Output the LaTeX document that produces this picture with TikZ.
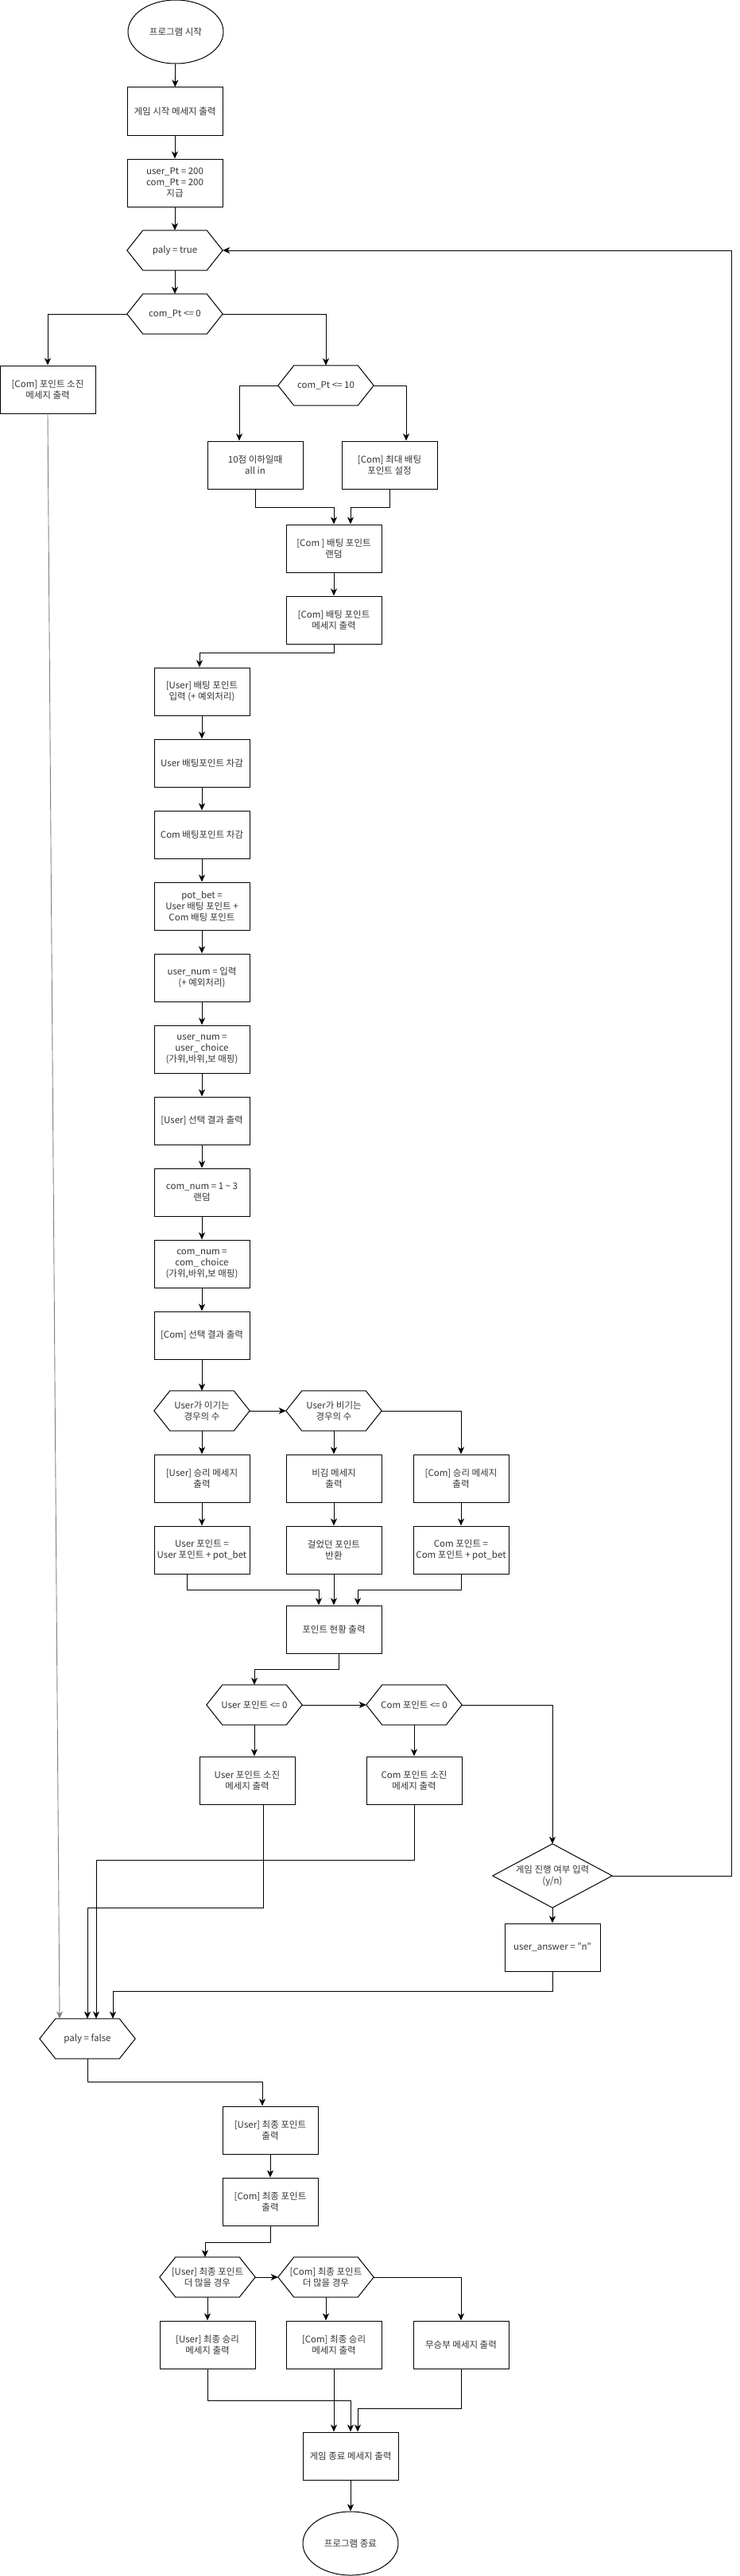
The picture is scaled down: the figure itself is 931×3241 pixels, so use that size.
\documentclass[tikz,border=0pt]{standalone}
\usepackage{fontspec}
\setmainfont{Noto Sans CJK KR}
\usetikzlibrary{shapes.geometric,arrows.meta,calc}
\definecolor{txt}{RGB}{51,51,51}
\definecolor{grayline}{RGB}{128,128,128}
\newcommand{\hexout}[1]{\draw[outl] (#1.west) -- ([xshift=20pt]#1.north west) -- ([xshift=-20pt]#1.north east) -- (#1.east) -- ([xshift=-20pt]#1.south east) -- ([xshift=20pt]#1.south west) -- cycle;}
\newcommand{\diaout}[1]{\draw[outl] (#1.west) -- (#1.north) -- (#1.east) -- (#1.south) -- cycle;}
\begin{document}
\begin{tikzpicture}[x=1pt,y=-1pt,
  every node/.style={font=\fontsize{11.5}{14}\selectfont, text=txt, align=center, inner sep=0pt},
  proc/.style={draw=black, line width=1pt, rectangle, minimum width=120pt, minimum height=60pt},
  hexn/.style={rectangle, minimum width=120pt, minimum height=50pt},
  term/.style={draw=black, line width=1pt, ellipse, minimum width=120pt, minimum height=80pt},
  dnode/.style={rectangle, minimum width=150pt, minimum height=80pt},
  outl/.style={draw=black, line width=1pt, line join=miter},
  conn/.style={draw=black, line width=0.9pt, -{Stealth[length=9pt,width=8pt,inset=2.5pt]}},
  gconn/.style={conn, draw=grayline},
]
\useasboundingbox (0,0) rectangle (931,3241);

% ---- nodes ----
\node[term] (start) at (221,40) {프로그램 시작};
\node[proc] (n1) at (220,140) {게임 시작 메세지 출력};
\node[proc] (n2) at (220,230) {user\_Pt = 200\\com\_Pt = 200\\지급};
\node[hexn] (h1) at (220,315) {paly = true};
\node[hexn] (h2) at (220,395) {com\_Pt <= 0};
\node[proc] (b3) at (60,490) {[Com] 포인트 소진\\메세지 출력};
\node[hexn] (h3) at (410,485) {com\_Pt <= 10};
\node[proc] (b4) at (321,585) {10점 이하일때\\all in};
\node[proc] (b5) at (490,585) {[Com] 최대 배팅\\포인트 설정};
\node[proc] (b6) at (420,690) {[Com ] 배팅 포인트\\랜덤};
\node[proc] (b7) at (420,780) {[Com] 배팅 포인트\\메세지 출력};
\node[proc] (b8) at (254,870) {[User] 배팅 포인트\\입력 (+ 예외처리)};
\node[proc] (b9) at (254,960) {User 배팅포인트 차감};
\node[proc] (b10) at (254,1050) {Com 배팅포인트 차감};
\node[proc] (b11) at (254,1140) {pot\_bet =\\User 배팅 포인트 +\\Com 배팅 포인트};
\node[proc] (b12) at (254,1230) {user\_num = 입력\\(+ 예외처리)};
\node[proc] (b13) at (254,1320) {user\_num =\\user\_ choice\\(가위,바위,보 매핑)};
\node[proc] (b14) at (254,1410) {[User] 선택 결과 출력};
\node[proc] (b15) at (254,1500) {com\_num = 1 \textasciitilde{} 3\\랜덤};
\node[proc] (b16) at (254,1590) {com\_num =\\com\_ choice\\(가위,바위,보 매핑)};
\node[proc] (b17) at (254,1680) {[Com] 선택 결과 출력};
\node[hexn] (h4) at (254,1775) {User가 이기는\\경우의 수};
\node[hexn] (h5) at (420,1775) {User가 비기는\\경우의 수};
\node[proc] (b18) at (254,1860) {[User] 승리 메세지\\출력};
\node[proc] (b19) at (420,1860) {비김 메세지\\출력};
\node[proc] (b20) at (580,1860) {[Com] 승리 메세지\\출력};
\node[proc] (b21) at (254,1950) {User 포인트 =\\User 포인트 + pot\_bet};
\node[proc] (b22) at (420,1950) {걸었던 포인트\\반환};
\node[proc] (b23) at (580,1950) {Com 포인트 =\\Com 포인트 + pot\_bet};
\node[proc] (b24) at (420,2050) {포인트 현황 출력};
\node[hexn] (h6) at (320,2145) {User 포인트 <= 0};
\node[hexn] (h7) at (521,2145) {Com 포인트 <= 0};
\node[proc] (b25) at (311,2240) {User 포인트 소진\\메세지 출력};
\node[proc] (b26) at (521,2240) {Com 포인트 소진\\메세지 출력};
\node[dnode] (d1) at (695,2360) {게임 진행 여부 입력\\(y/n)};
\node[proc] (b27) at (695,2450) {user\_answer = "n"};
\node[hexn] (h8) at (110,2565) {paly = false};
\node[proc] (b28) at (340,2680) {[User] 최종 포인트\\출력};
\node[proc] (b29) at (340,2770) {[Com] 최종 포인트\\출력};
\node[hexn] (h9) at (261,2865) {[User] 최종 포인트\\더 많을 경우};
\node[hexn] (h10) at (410,2865) {[Com] 최종 포인트\\더 많을 경우};
\node[proc] (b30) at (261,2950) {[User] 최종 승리\\메세지 출력};
\node[proc] (b31) at (420,2950) {[Com] 최종 승리\\메세지 출력};
\node[proc] (b32) at (580,2950) {무승부 메세지 출력};
\node[proc] (b33) at (441,3090) {게임 종료 메세지 출력};
\node[term] (endn) at (441,3200) {프로그램 종료};

% ---- outlines ----
\hexout{h1}\hexout{h2}\hexout{h3}\hexout{h4}\hexout{h5}\hexout{h6}\hexout{h7}\hexout{h8}\hexout{h9}\hexout{h10}
\diaout{d1}

% ---- connectors ----
\draw[conn] (start) -- (n1);
\draw[conn] (n1) -- (n2);
\draw[conn] (n2) -- (h1);
\draw[conn] (h1) -- (h2);
\draw[conn] (h2.west) -| (b3.north);
\draw[conn] (h2.east) -| (h3.north);
\draw[conn] (h3.west) -| ([xshift=-20pt]b4.north);
\draw[conn] (h3.east) -| ([xshift=21pt]b5.north);
\draw[conn] (b4.south) -- ++(0,23) -| (b6.north);
\draw[conn] (b5.south) -- ++(0,23) -| ([xshift=21pt]b6.north);
\draw[conn] (b6) -- (b7);
\draw[conn] (b7.south) -- ++(0,11) -| ([xshift=-3pt]b8.north);
\draw[conn] (b8) -- (b9);
\draw[conn] (b9) -- (b10);
\draw[conn] (b10) -- (b11);
\draw[conn] (b11) -- (b12);
\draw[conn] (b12) -- (b13);
\draw[conn] (b13) -- (b14);
\draw[conn] (b14) -- (b15);
\draw[conn] (b15) -- (b16);
\draw[conn] (b16) -- (b17);
\draw[conn] (b17) -- (h4);
\draw[conn] (h4.east) -- (h5.west);
\draw[conn] (h5.east) -| (b20.north);
\draw[conn] (h4) -- (b18);
\draw[conn] (h5) -- (b19);
\draw[conn] (b18) -- (b21);
\draw[conn] (b19) -- (b22);
\draw[conn] (b20) -- (b23);
\draw[conn] ([xshift=-19pt]b21.south) -- ++(0,20) -| ([xshift=-19pt]b24.north);
\draw[conn] (b22) -- (b24);
\draw[conn] (b23.south) -- ++(0,20) -| ([xshift=30pt]b24.north);
\draw[conn] ([xshift=6pt]b24.south) -- ++(0,20) -| (h6.north);
\draw[conn] (h6.east) -- (h7.west);
\draw[conn] (h7.east) -| (d1.north);
\draw[conn] (h6.south) -- (h6.south |- b25.north);
\draw[conn] (h7) -- (b26);
\coordinate (loopR) at (920,2360);
\draw[conn] (d1.east) -- (loopR) |- (h1.east);
\draw[conn] (d1) -- (b27);
\draw[conn] (b27.south) -- ++(0,25) -| ([xshift=32pt]h8.north);
\draw[conn] ([xshift=20pt]b25.south) -- ++(0,130) -| (h8.north);
\draw[conn] (b26.south) -- ++(0,70) -| ([xshift=11pt]h8.north);
\draw[gconn] (b3.south) -- ([xshift=-35pt]h8.north);
\draw[conn] (h8.south) -- ++(0,29) -| ([xshift=-10pt]b28.north);
\draw[conn] (b28) -- (b29);
\draw[conn] (b29.south) -- ++(0,21) -| ([xshift=-3pt]h9.north);
\draw[conn] (h9.east) -- (h10.west);
\draw[conn] (h10.east) -| (b32.north);
\draw[conn] (h9) -- (b30);
\draw[conn] (h10.south) -- (h10.south |- b31.north);
\draw[conn] (b30.south) -- ++(0,40) -| (b33.north);
\draw[conn] (b31.south) -- (b31.south |- b33.north);
\draw[conn] (b32.south) -- ++(0,50) -| ([xshift=9pt]b33.north);
\draw[conn] (b33) -- (endn);
\end{tikzpicture}
\end{document}
